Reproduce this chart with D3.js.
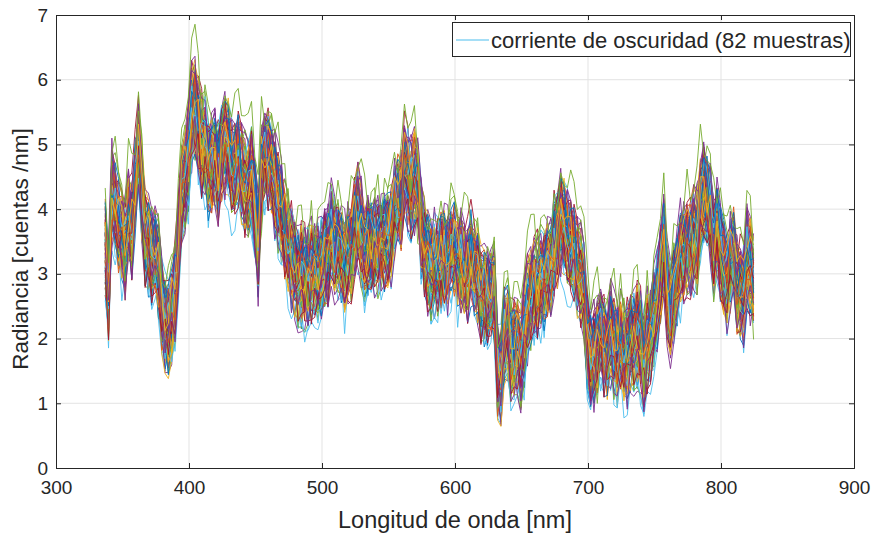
<!DOCTYPE html>
<html><head><meta charset="utf-8">
<script src="https://cdn.jsdelivr.net/npm/d3@7"></script>
<style>body{margin:0;background:#fff}text{font-family:"Liberation Sans",Arial,sans-serif;fill:#262626}</style>
</head><body><svg id="c" width="877" height="536"></svg>
<script>
// wavelength sampling (nm)
const wlStart = 337, wlStep = 2.5;
// mean radiance of the 82 dark-current samples
const meanCurve = [3.41,2.69,4.24,4.08,3.72,3.62,3.41,3.88,3.72,4.34,4.96,4.29,3.57,3.46,3.31,3.31,3.05,2.48,2.23,2.18,2.38,2.69,3.41,4.24,4.44,4.80,5.47,5.63,5.27,4.96,4.96,4.60,4.60,4.75,4.50,4.86,
5.01,4.96,4.60,4.60,4.75,4.55,4.39,4.29,4.50,4.03,3.41,4.50,4.80,4.75,4.60,4.39,4.13,3.98,3.67,3.46,3.26,3.10,2.95,3.00,2.95,3.00,3.05,3.00,3.00,3.10,3.26,3.26,3.62,3.36,3.36,3.26,3.10,3.31,
3.31,3.72,3.97,3.62,3.36,3.51,3.46,3.51,3.46,3.46,3.51,3.51,3.62,4.03,4.13,4.08,4.64,4.49,4.33,4.49,4.33,3.72,3.41,3.21,3.10,3.15,3.15,3.21,3.26,3.21,3.36,3.36,3.21,3.21,3.05,3.05,3.26,3.00,
3.00,2.69,2.69,2.69,2.64,2.69,1.46,1.41,2.08,2.13,1.77,1.82,1.87,1.67,2.08,2.49,2.69,2.79,2.79,2.90,2.90,3.00,3.05,3.41,3.51,3.82,3.72,3.51,3.41,3.31,3.10,3.00,2.69,1.97,1.67,1.77,1.87,
2.08,1.87,1.72,2.08,1.87,1.77,1.97,1.77,1.77,1.97,1.97,2.08,1.97,1.67,1.97,1.97,2.28,2.59,3.00,3.41,2.69,2.38,2.69,2.90,3.26,3.31,3.41,3.41,3.62,3.51,4.13,4.33,4.18,4.03,3.41,3.72,3.36,3.10,
2.90,3.21,3.31,2.79,2.74,2.69,3.26,3.10,2.85];
// spread of the band around the mean (cuentas/nm)
const levelSpread = 0.5, noiseSpread = 0.45;
// level of each sample relative to the band (units of levelSpread)
const seriesOffset = [0.35,-0.62,0.18,0.81,-0.27,-0.90,0.52,-0.13,0.66,-0.44,0.07,-0.71,0.29,0.93,-0.36,0.12,-0.58,0.74,-0.05,-1.20,0.41,
-0.83,0.22,0.60,-0.19,0.88,-0.50,0.02,-0.67,0.47,0.15,-0.96,0.33,0.70,-0.31,-0.08,0.56,-0.77,0.25,0.84,-0.41,-0.15,0.63,-0.55,0.09,
0.38,-0.88,0.77,-0.22,0.50,-0.64,0.19,0.95,-0.34,-0.03,0.44,-0.73,0.28,0.68,-0.47,0.13,-0.92,0.58,-0.11,0.36,-0.60,0.80,-0.25,0.05,
-0.79,0.46,0.21,-0.52,0.72,-0.38,0.10,-0.69,0.54,-0.17,0.31,-0.86,1.6];
// small-scale detector noise table
const jitter = [0.12,-0.85,0.47,0.93,-0.31,-0.66,0.05,0.78,-0.92,0.34,-0.18,0.61,-0.54,0.88,-0.07,-0.73,0.29,0.52,-0.96,0.15,0.70,-0.40,-0.11,0.83,-0.62,0.38,-0.88,0.21,0.64,-0.27,0.95,-0.49,0.02,-0.79,0.56,0.09,-0.35,0.74,-0.68,0.43,-0.15,0.87,-0.58,0.26,-0.94,0.67,0.11,-0.44,0.81,-0.22,-0.71,0.36,0.59,-0.83,0.18,-0.05,0.91,-0.38,0.48,-0.63,0.24,-0.90,0.72,-0.19,0.55,0.03,-0.76,0.41,-0.52,0.98,-0.29,0.14,-0.86,0.63,-0.09,0.33,-0.69,0.80,-0.45,0.07,-0.97,0.51,0.27,-0.57,0.85,-0.24,-0.81,0.44,0.69,-0.36,0.17,-0.64,0.92,-0.13,0.39,-0.74,0.58,-0.02,-0.50,0.76,-0.33];
const colors = ["#0072BD","#D95319","#EDB120","#7E2F8E","#77AC30","#4DBEEE","#A2142F"];
const xTicks = [300,400,500,600,700,800,900];
const yTicks = [0,1,2,3,4,5,6,7];
const xLabel = "Longitud de onda [nm]";
const yLabel = "Radiancia [cuentas /nm]";
const legendLabel = "corriente de oscuridad (82 muestras)";
const legendColor = "#4DBEEE";

const svg = d3.select("#c");
const L = 56, R = 854, T = 15, B = 468;
const x = d3.scaleLinear().domain([300,900]).range([L,R]);
const y = d3.scaleLinear().domain([0,7]).range([B,T]);

// grid
const g = svg.append("g");
g.selectAll(".vg").data(xTicks.slice(1,-1)).enter().append("line")
  .attr("x1",d=>x(d)).attr("x2",d=>x(d)).attr("y1",T).attr("y2",B)
  .attr("stroke","#e3e3e3").attr("stroke-width",1);
g.selectAll(".hg").data(yTicks.slice(1,-1)).enter().append("line")
  .attr("y1",d=>y(d)).attr("y2",d=>y(d)).attr("x1",L).attr("x2",R)
  .attr("stroke","#e3e3e3").attr("stroke-width",1);

// series
const nSeries = seriesOffset.length;
const wl = meanCurve.map((_,i)=>wlStart + i*wlStep);
const J = jitter.length;
const line = d3.line().x(d=>x(d[0])).y(d=>y(d[1]));
const lines = svg.append("g");
for (let s=0; s<nSeries; s++){
  const pts = meanCurve.map((m,i)=>[wl[i], m + levelSpread*seriesOffset[s] + noiseSpread*jitter[(i*7 + s*13) % J]]);
  lines.append("path").datum(pts).attr("d",line)
    .attr("fill","none").attr("stroke",colors[s%7]).attr("stroke-width",0.9)
    .attr("stroke-linejoin","round");
}

// axes
const xa = svg.append("g").attr("transform",`translate(0,${B})`)
  .call(d3.axisBottom(x).tickValues(xTicks).tickSize(-5).tickPadding(13).tickFormat(d3.format("d")));
const xt = svg.append("g").attr("transform",`translate(0,${T})`)
  .call(d3.axisTop(x).tickValues(xTicks).tickSize(-5).tickFormat(""));
const ya = svg.append("g").attr("transform",`translate(${L},0)`)
  .call(d3.axisLeft(y).tickValues(yTicks).tickSize(-5).tickPadding(8).tickFormat(d3.format("d")));
const yr = svg.append("g").attr("transform",`translate(${R},0)`)
  .call(d3.axisRight(y).tickValues(yTicks).tickSize(-5).tickFormat(""));
[xa,xt,ya,yr].forEach(a=>{
  a.select(".domain").attr("stroke","#262626").attr("stroke-width",1);
  a.selectAll(".tick line").attr("stroke","#262626");
  a.selectAll("text").attr("font-size",19).attr("font-family","Liberation Sans, Arial, sans-serif").attr("fill","#262626");
});

svg.append("text").attr("x",455).attr("y",528).attr("text-anchor","middle")
  .attr("font-size",23.5).text(xLabel);
svg.append("text").attr("transform",`translate(28,249) rotate(-90)`).attr("text-anchor","middle")
  .attr("font-size",22.5).text(yLabel);

// legend
const lg = svg.append("g");
lg.append("rect").attr("x",452.5).attr("y",22.5).attr("width",398).attr("height",34)
  .attr("fill","#fff").attr("stroke","#262626").attr("stroke-width",1);
lg.append("line").attr("x1",456).attr("x2",489).attr("y1",40).attr("y2",40)
  .attr("stroke",legendColor).attr("stroke-width",1.2);
lg.append("text").attr("x",491).attr("y",48).attr("font-size",22).text(legendLabel);
</script></body></html>
